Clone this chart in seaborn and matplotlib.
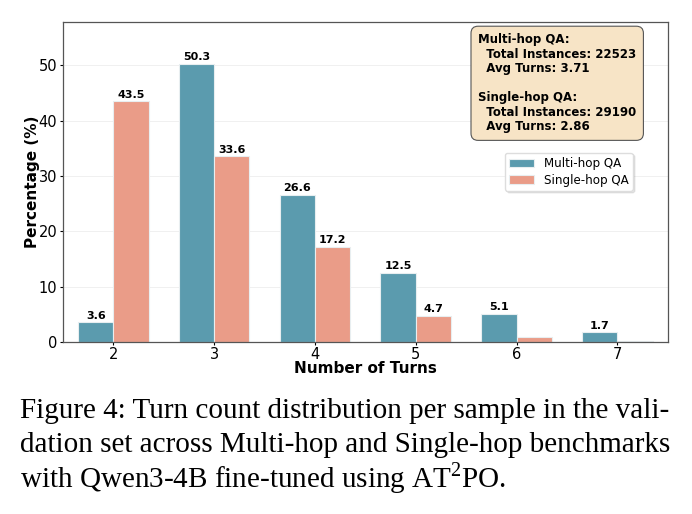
import pandas as pd
import matplotlib.pyplot as plt
import seaborn as sns

turns = ["2", "3", "4", "5", "6", "7"]
multi_hop = [3.6, 50.3, 26.6, 12.5, 5.1, 1.7]
single_hop = [43.5, 33.6, 17.2, 4.7, 0.8, 0.1]
series_names = ["Multi-hop QA", "Single-hop QA"]
colors = ["#5b9bae", "#ea9c88"]

df = pd.DataFrame({
    "turns": turns * 2,
    "pct": multi_hop + single_hop,
    "dataset": [series_names[0]] * len(turns) + [series_names[1]] * len(turns),
})

sns.set_style("white")
plt.rcParams.update({
    "text.color": "black", "axes.labelcolor": "black",
    "xtick.color": "black", "ytick.color": "black",
    "mathtext.fontset": "custom", "mathtext.rm": "Liberation Serif",
})

fig = plt.figure(figsize=(6.92, 5.14), dpi=100)
ax = fig.add_axes([0.091, 0.335, 0.874, 0.622])

sns.barplot(data=df, x="turns", y="pct", hue="dataset", palette=colors,
            width=0.7, saturation=1, edgecolor="#e8eef0", linewidth=0.8, ax=ax)

for container in ax.containers:
    labels = [f"{v:.1f}" if v >= 1 else "" for v in container.datavalues]
    ax.bar_label(container, labels=labels, fontsize=8, fontweight="bold", padding=1)

ax.set_ylim(0, max(multi_hop) * 1.15)
ax.set_xlabel("Number of Turns", fontsize=11, fontweight="bold", labelpad=-1)
ax.set_ylabel("Percentage (%)", fontsize=11, fontweight="bold", labelpad=-1)
ax.tick_params(axis="both", labelsize=10.5, length=2, width=0.8, pad=2, bottom=True, left=True)
ax.yaxis.grid(True, color="#dddddd", alpha=0.5, linewidth=0.6)
ax.set_axisbelow(True)
for s in ax.spines.values():
    s.set_color("#555555")
    s.set_linewidth(0.9)

ax.legend(loc="upper right", bbox_to_anchor=(0.952, 0.61), fontsize=8.6,
          frameon=True, fancybox=True, shadow={"alpha": 0.12, "ox": 1.5, "oy": -1.5},
          edgecolor="#dddddd", handlelength=2.1, borderpad=0.35, labelspacing=0.3)

info = ("Multi-hop QA:\n  Total Instances: 22523\n  Avg Turns: 3.71\n\n"
        "Single-hop QA:\n  Total Instances: 29190\n  Avg Turns: 2.86")
ax.text(0.948, 0.965, info, transform=ax.transAxes, ha="right", va="top",
        multialignment="left", fontsize=8.5, fontweight="bold", linespacing=1.15,
        bbox=dict(boxstyle="round,pad=0.6", facecolor="#f7e4c6", edgecolor="#555555", linewidth=0.8))

caption = ["Figure 4: Turn count distribution per sample in the vali-",
           "dation set across Multi-hop and Single-hop benchmarks",
           r"with Qwen3-4B fine-tuned using AT$^{2}$PO."]
for i, line in enumerate(caption):
    fig.text(0.029, 0.2 - i * 0.065, line, fontsize=21, family="Liberation Serif",
             ha="left", va="center")

plt.savefig("out.png", dpi=100)
plt.close()
